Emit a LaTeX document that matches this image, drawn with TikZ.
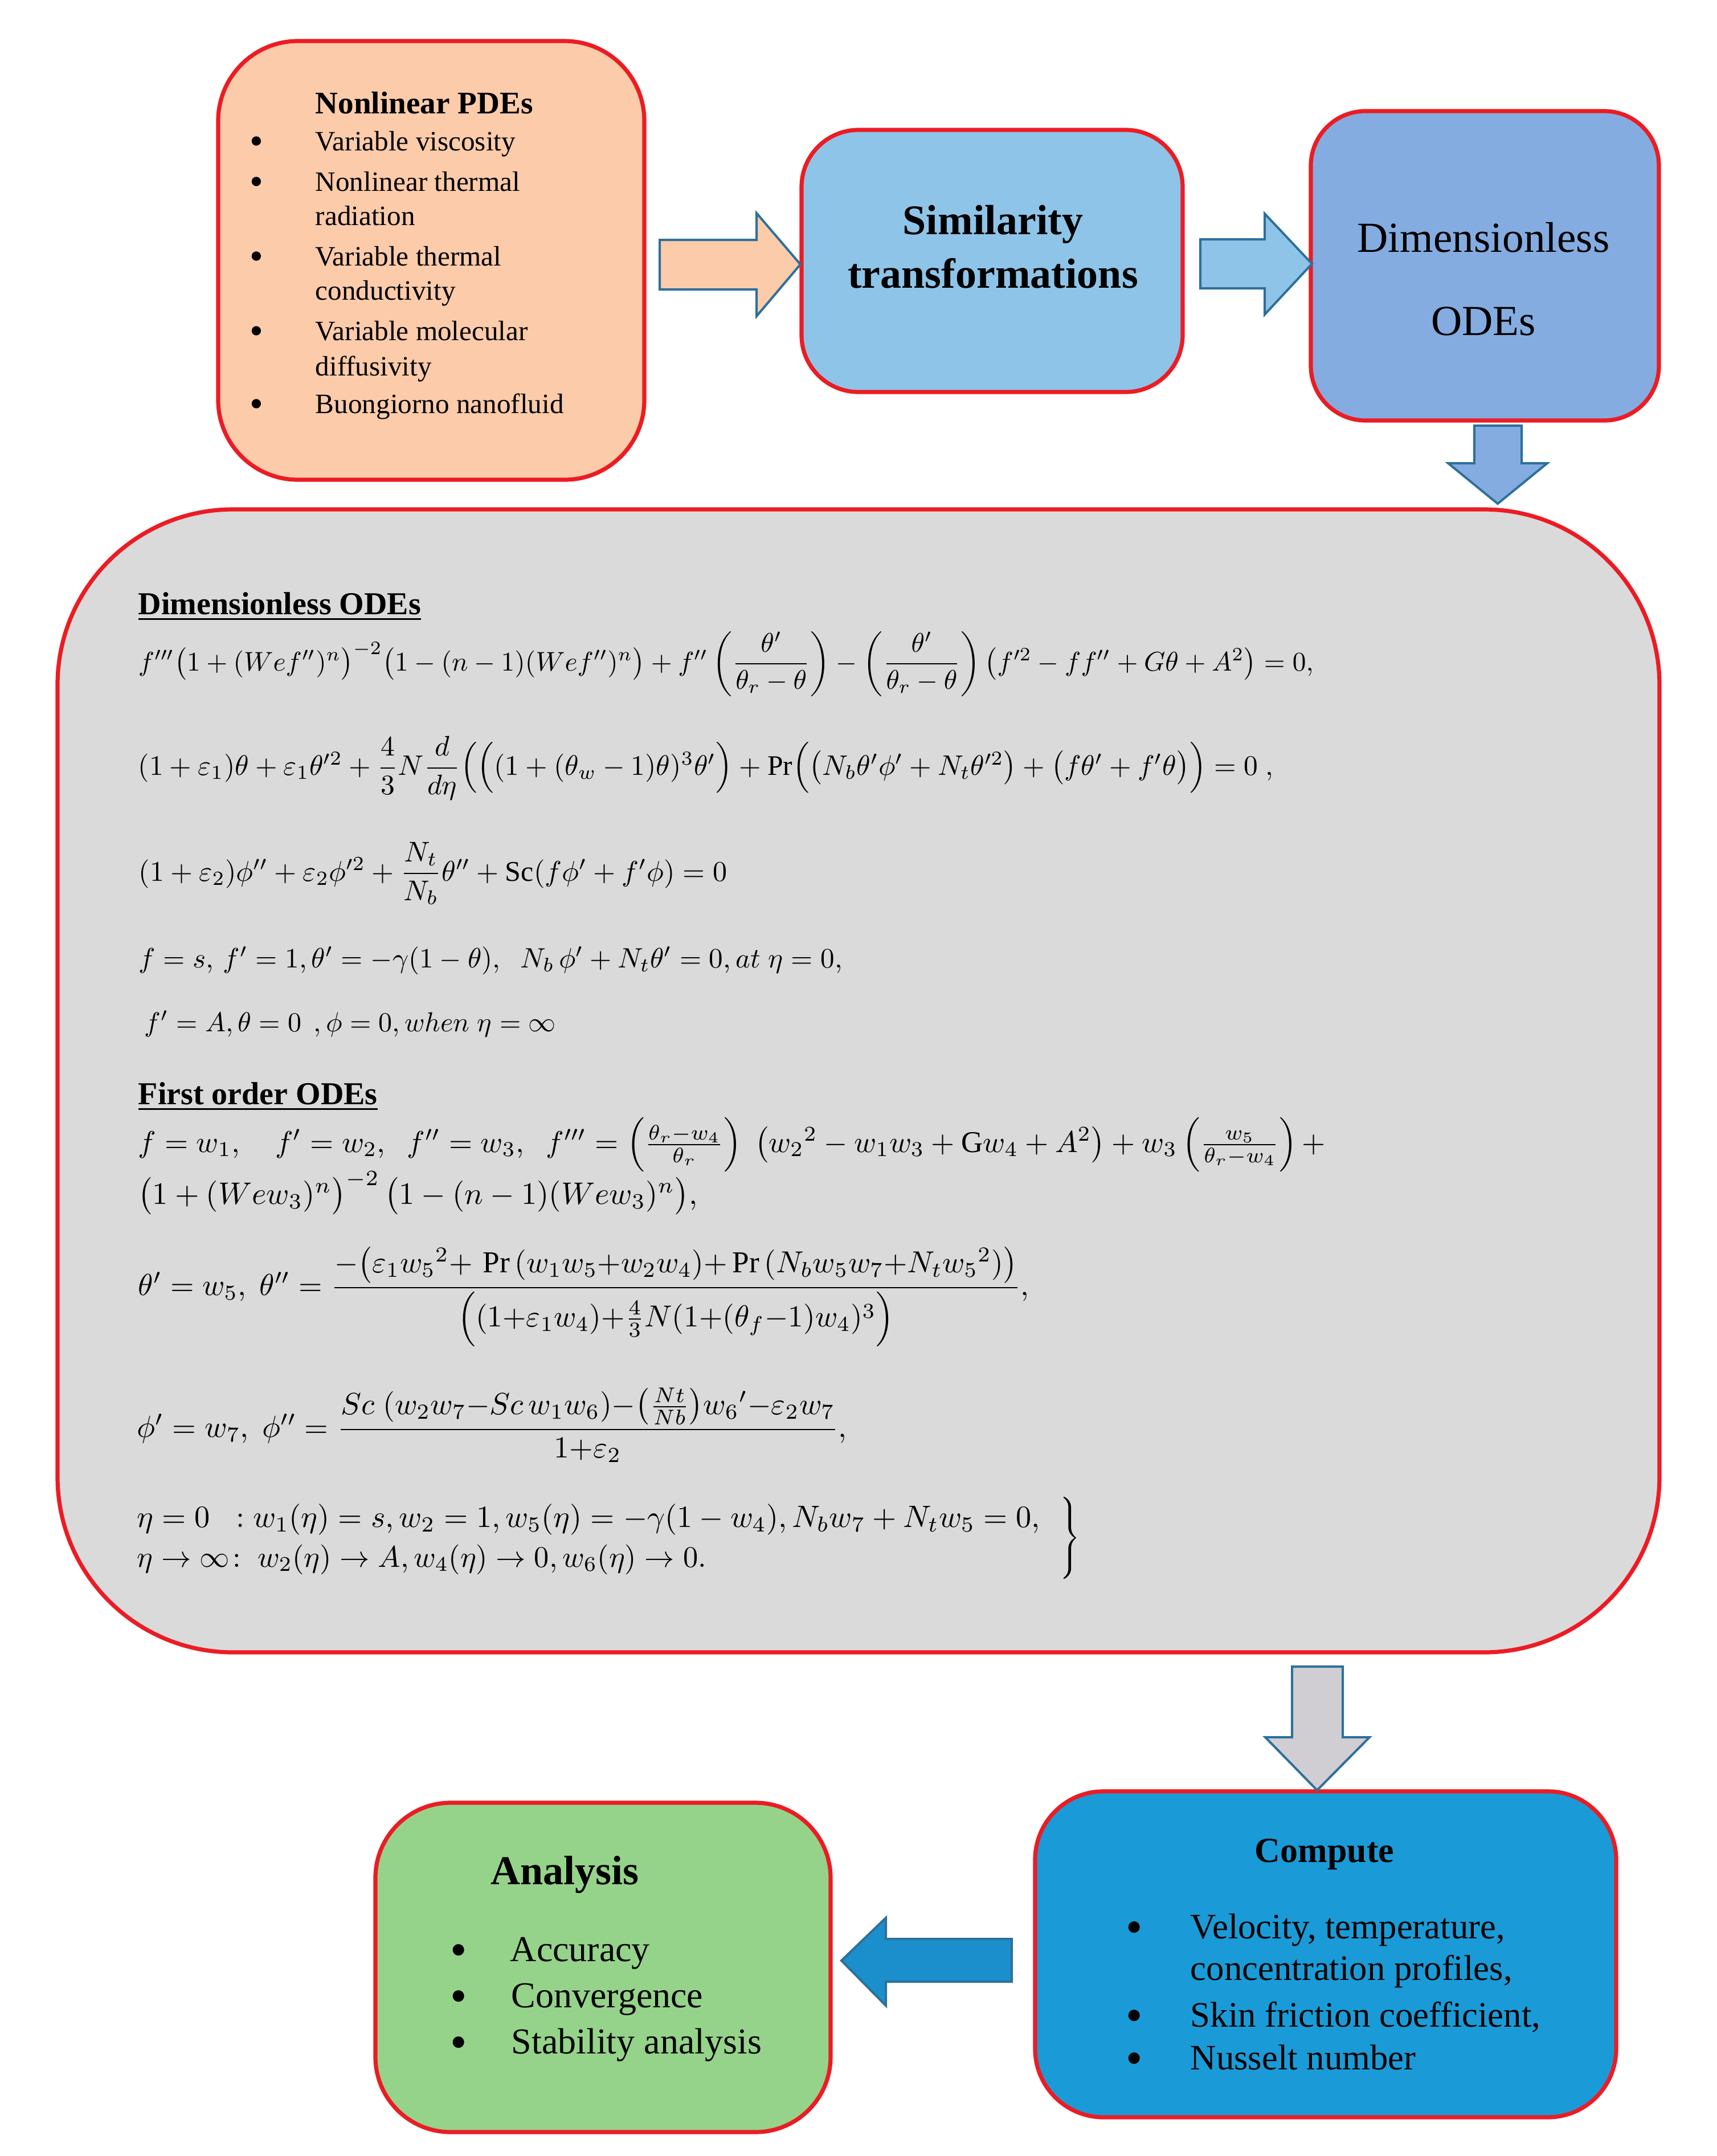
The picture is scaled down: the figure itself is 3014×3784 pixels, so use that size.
\documentclass[tikz,border=0pt]{standalone}
\usepackage{amsmath}
\usepackage{graphicx}
\usepackage{fontspec}
\setmainfont{Liberation Serif}
\usetikzlibrary{calc}
\definecolor{bred}{RGB}{236,28,36}
\definecolor{peach}{RGB}{251,203,170}
\definecolor{simblue}{RGB}{142,196,232}
\definecolor{dimblue}{RGB}{132,172,224}
\definecolor{grayfill}{RGB}{218,218,218}
\definecolor{compblue}{RGB}{26,155,215}
\definecolor{anagreen}{RGB}{150,211,138}
\definecolor{arredge}{RGB}{46,112,155}
\definecolor{grayarrow}{RGB}{208,206,211}
\definecolor{leftarrow}{RGB}{27,142,204}
\tikzset{
  rbox/.style={draw=bred, line width=1.8pt, inner sep=0pt},
  blockarrow/.style={draw=arredge, line width=1pt, line join=miter},
  txt/.style={anchor=base west, inner sep=0pt},
  ctxt/.style={anchor=base, inner sep=0pt},
  eqn/.style={anchor=base west, inner sep=0pt},
  bul/.style={anchor=base, inner sep=0pt},
}
\newcommand{\fs}[1]{\fontsize{#1}{#1}\selectfont}
\begin{document}
\begin{tikzpicture}[x=0.25pt,y=-0.25pt]
\useasboundingbox (0,0) rectangle (3014,3784);
\fill[white] (0,0) rectangle (3014,3784);

% ---------- boxes ----------
\node[rbox, fill=peach, minimum width=187pt, minimum height=192.5pt, rounded corners=35pt] (pde) at (757,457) {};
\node[rbox, fill=simblue, minimum width=167.25pt, minimum height=115pt, rounded corners=25pt] (sim) at (1741.5,458) {};
\node[rbox, fill=dimblue, minimum width=152.75pt, minimum height=135.75pt, rounded corners=24pt] (dim) at (2606.5,466.5) {};
\node[rbox, fill=grayfill, minimum width=703pt, minimum height=501.5pt, rounded corners=77pt] (ode) at (1507,1897) {};
\node[rbox, fill=compblue, minimum width=255pt, minimum height=143pt, rounded corners=30pt] (comp) at (2327,3430) {};
\node[rbox, fill=anagreen, minimum width=199.75pt, minimum height=144.5pt, rounded corners=33pt] (ana) at (1058.5,3453) {};

% ---------- block arrows ----------
\filldraw[blockarrow, fill=peach] (1158,421) -- (1328,421) -- (1328,374) -- (1405,464) -- (1328,555) -- (1328,508) -- (1158,508) -- cycle;
\filldraw[blockarrow, fill=simblue] (2107,420) -- (2220,420) -- (2220,375) -- (2303,463) -- (2220,552) -- (2220,506) -- (2107,506) -- cycle;
\filldraw[blockarrow, fill=dimblue] (2588,747) -- (2671,747) -- (2671,813) -- (2716,813) -- (2629,884) -- (2542,813) -- (2588,813) -- cycle;
\filldraw[blockarrow, fill=grayarrow] (2268,2925) -- (2357,2925) -- (2357,3049) -- (2404,3049) -- (2312,3142) -- (2221,3049) -- (2268,3049) -- cycle;
\filldraw[blockarrow, fill=leftarrow] (1776,3403) -- (1555,3403) -- (1555,3366) -- (1477,3441) -- (1555,3520) -- (1555,3478) -- (1776,3478) -- cycle;

% ---------- Nonlinear PDEs box ----------
\node[txt, font=\fs{13.8}\bfseries] (pdeT) at (553,199) {Nonlinear PDEs};
\begin{scope}[every node/.append style={font=\fs{12.3}}]
\node[txt] (p1) at (553,264) {Variable viscosity};
\node[txt] (p2) at (553,335) {Nonlinear thermal};
\node[txt] (p2b) at (553,395) {radiation};
\node[txt] (p3) at (553,466) {Variable thermal};
\node[txt] (p3b) at (553,526) {conductivity};
\node[txt] (p4) at (553,597) {Variable molecular};
\node[txt] (p4b) at (553,659) {diffusivity};
\node[txt] (p5) at (553,725) {Buongiorno nanofluid};
\end{scope}
\begin{scope}[every node/.append style={font=\fs{17}}]
\node[bul] (pb1) at (450,270) {•};
\node[bul] (pb2) at (450,341) {•};
\node[bul] (pb3) at (450,472) {•};
\node[bul] (pb4) at (450,603) {•};
\node[bul] (pb5) at (450,731) {•};
\end{scope}

% ---------- Similarity / Dimensionless ----------
\node[ctxt, font=\fs{18.5}\bfseries] (simT1) at (1743,411) {Similarity};
\node[ctxt, font=\fs{18.5}\bfseries] (simT2) at (1743,505) {transformations};
\node[ctxt, font=\fs{18.8}] (dimT1) at (2604,442) {Dimensionless};
\node[ctxt, font=\fs{18.8}] (dimT2) at (2604,588) {ODEs};

% ---------- ODE block ----------
\node[txt, font=\fs{14}\bfseries] (h1) at (242,1078) {\underline{Dimensionless ODEs}};
\node[eqn] (e1) at (242,1177) {\resizebox{515.75pt}{!}{$f'''\bigl(1+(Wef'')^{n}\bigr)^{-2}\bigl(1-(n-1)(Wef'')^{n}\bigr)+f''\left(\dfrac{\theta'}{\theta_r-\theta}\right)-\left(\dfrac{\theta'}{\theta_r-\theta}\right)\left(f'^{2}-ff''+G\theta+A^{2}\right)=0,$}};
\node[eqn] (e2) at (242,1360) {\resizebox{498pt}{!}{$(1+\varepsilon_1)\theta+\varepsilon_1\theta'^{2}+\dfrac{4}{3}N\dfrac{d}{d\eta}\Bigl(\Bigl((1+(\theta_w-1)\theta)^{3}\theta'\Bigr)+\Pr\Bigl(\bigl(N_b\theta'\phi'+N_t\theta'^{2}\bigr)+\bigl(f\theta'+f'\theta\bigr)\Bigr)=0\ ,$}};
\node[eqn] (e3) at (243,1546) {\resizebox{258.25pt}{!}{$(1+\varepsilon_2)\phi''+\varepsilon_2\phi'^{2}+\dfrac{N_t}{N_b}\theta''+\mathrm{Sc}(f\phi'+f'\phi)=0$}};
\node[eqn] (e4) at (243,1698) {\resizebox{308.75pt}{!}{$f=s,\,f'=1,\theta'=-\gamma(1-\theta),\;\;N_b\,\phi'+N_t\theta'=0,at\;\eta=0,$}};
\node[eqn] (e5) at (253,1810) {\resizebox{180.5pt}{!}{$f'=A,\theta=0\;\,,\phi=0,when\;\eta=\infty$}};

\node[txt, font=\fs{14}\bfseries] (h2) at (242,1938) {\underline{First order ODEs}};
\node[eqn] (e6a) at (242,2022) {\resizebox{521pt}{!}{$f=w_1,\quad f'=w_2,\;\;f''=w_3,\;\;f'''=\left(\frac{\theta_r-w_4}{\theta_r}\right)\;\left(w_2{}^{2}-w_1w_3+\mathrm{G}w_4+A^{2}\right)+w_3\left(\frac{w_5}{\theta_r-w_4}\right)+$}};
\node[eqn] (e6b) at (242,2113) {\resizebox{245.5pt}{!}{$\bigl(1+(Wew_3)^{n}\bigr)^{-2}\,\bigl(1-(n-1)(Wew_3)^{n}\bigr),$}};
\node[eqn] (e7) at (242,2273) {\resizebox{391pt}{!}{$\theta'=w_5,\;\theta''=\dfrac{-\bigl(\varepsilon_1w_5{}^{2}{+}\,\Pr\,(w_1w_5{+}w_2w_4){+}\Pr\,(N_bw_5w_7{+}N_tw_5{}^{2})\bigr)}{\Bigl((1{+}\varepsilon_1w_4){+}\tfrac{4}{3}N(1{+}(\theta_f{-}1)w_4)^{3}\Bigr)},$}};
\node[eqn] (e8) at (240,2522) {\resizebox{311.5pt}{!}{$\phi'=w_7,\;\phi''=\dfrac{Sc\;(w_2w_7{-}Sc\,w_1w_6){-}\bigl(\frac{Nt}{Nb}\bigr)w_6{}'{-}\varepsilon_2w_7}{1{+}\varepsilon_2},$}};
\node[eqn] (e9a) at (240,2680) {\resizebox{396.25pt}{!}{$\eta=0\;\;:w_1(\eta)=s,w_2=1,w_5(\eta)=-\gamma(1-w_4),N_bw_7+N_tw_5=0,$}};
\node[eqn] (e9b) at (240,2750) {\resizebox{249.75pt}{!}{$\eta\to\infty\!:\;w_2(\eta)\to A,w_4(\eta)\to 0,w_6(\eta)\to 0.$}};
\node[inner sep=0pt] (brace) at (1876,2699) {$\left.\vrule height 15pt depth 15pt width 0pt\right\}$};

% ---------- Compute ----------
\node[ctxt, font=\fs{15.5}\bfseries] (compT) at (2325,3268) {Compute};
\begin{scope}[every node/.append style={font=\fs{15.7}}]
\node[txt] (c1) at (2089,3402) {Velocity, temperature,};
\node[txt] (c1b) at (2089,3475) {concentration profiles,};
\node[txt] (c2) at (2089,3557) {Skin friction coefficient,};
\node[txt] (c3) at (2089,3632) {Nusselt number};
\end{scope}
\begin{scope}[every node/.append style={font=\fs{21}}]
\node[bul] (cb1) at (1991,3410) {•};
\node[bul] (cb2) at (1991,3565) {•};
\node[bul] (cb3) at (1991,3640) {•};
\end{scope}

% ---------- Analysis ----------
\node[txt, font=\fs{18}\bfseries] (anaT) at (861,3307) {Analysis};
\begin{scope}[every node/.append style={font=\fs{16}}]
\node[txt] (a1) at (895,3442) {Accuracy};
\node[txt] (a2) at (897,3523) {Convergence};
\node[txt] (a3) at (897,3604) {Stability analysis};
\end{scope}
\begin{scope}[every node/.append style={font=\fs{21}}]
\node[bul] (ab1) at (805,3450) {•};
\node[bul] (ab2) at (805,3531) {•};
\node[bul] (ab3) at (805,3612) {•};
\end{scope}
\end{tikzpicture}
\end{document}
